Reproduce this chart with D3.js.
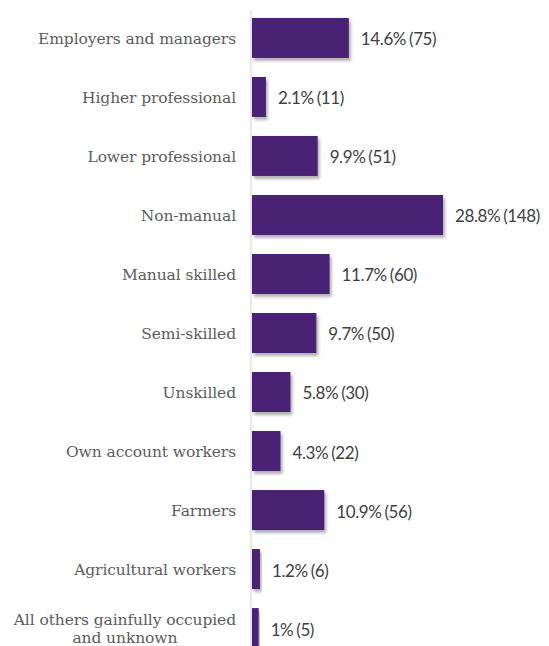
<!DOCTYPE html>
<html><head><meta charset="utf-8">
<script src="https://cdn.jsdelivr.net/npm/d3@7"></script>
<style>body{margin:0;background:#fff}</style>
</head><body>
<svg id="chart" width="549" height="646"></svg>
<script>
const categories = ["Employers and managers","Higher professional","Lower professional","Non-manual","Manual skilled","Semi-skilled","Unskilled","Own account workers","Farmers","Agricultural workers","All others gainfully occupied|and unknown"];
const percents = [14.6,2.1,9.9,28.8,11.7,9.7,5.8,4.3,10.9,1.2,1];
const counts = [75,11,51,148,60,50,30,22,56,6,5];
const valueLabels = ["14.6% (75)","2.1% (11)","9.9% (51)","28.8% (148)","11.7% (60)","9.7% (50)","5.8% (30)","4.3% (22)","10.9% (56)","1.2% (6)","1% (5)"];

const svg = d3.select("#chart");
const defs = svg.append("defs");
const f = defs.append("filter").attr("id","sh").attr("x","-10%").attr("y","-20%").attr("width","130%").attr("height","160%");
f.append("feDropShadow").attr("dx",2).attr("dy",3).attr("stdDeviation",1.8).attr("flood-color","#000").attr("flood-opacity",0.3);

const x = d3.scaleLinear().domain([0,30]).range([252,451]);
const y = d3.scaleBand().domain(categories).range([8.5,657.5]).paddingInner(0.322).paddingOuter(0.16);

svg.append("line").attr("x1",251).attr("x2",251).attr("y1",10).attr("y2",646).attr("stroke","#d9d9d9").attr("stroke-width",1.2);

svg.selectAll("rect.bar").data(categories).join("rect").attr("class","bar")
  .attr("x",x(0)).attr("y",d=>y(d)).attr("height",y.bandwidth())
  .attr("width",(d,i)=>x(percents[i])-x(0)).attr("fill","#4a2075").attr("filter","url(#sh)");

svg.selectAll("text.val").data(categories).join("text").attr("class","val")
  .attr("x",(d,i)=>x(percents[i])+12).attr("y",d=>y(d)+y.bandwidth()/2).attr("dy","0.44em")
  .attr("font-family","Lato").attr("font-size",17).attr("fill","#404040").attr("letter-spacing",-0.4).attr("word-spacing",-1)
  .text((d,i)=>valueLabels[i]);

const lab = svg.selectAll("g.lab").data(categories).join("g").attr("class","lab");
lab.each(function(d){
  const g = d3.select(this);
  const lines = d.split("|");
  const cy = y(d)+y.bandwidth()/2;
  const style = t => t.attr("font-family","DejaVu Serif").attr("font-size",15.5).attr("fill","#5c5c5c").attr("letter-spacing",-0.1);
  if(lines.length===1){
    style(g.append("text").attr("x",236).attr("y",cy).attr("dy","0.38em").attr("text-anchor","end")).text(lines[0]);
  } else {
    const t1 = style(g.append("text").attr("x",236).attr("y",cy-9).attr("dy","0.38em").attr("text-anchor","end")).text(lines[0]);
    const w = t1.node().getComputedTextLength();
    style(g.append("text").attr("x",236-w/2).attr("y",cy+9).attr("dy","0.38em").attr("text-anchor","middle")).text(lines[1]);
  }
});
</script>
</body></html>
